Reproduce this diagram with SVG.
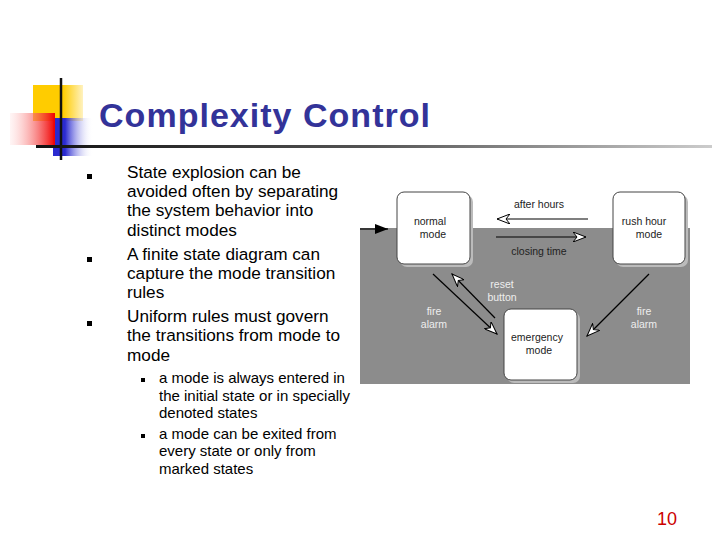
<svg xmlns="http://www.w3.org/2000/svg" width="720" height="540" viewBox="0 0 720 540">
<defs>
<linearGradient id="red" x1="1" y1="0" x2="0" y2="0"><stop offset="0" stop-color="#f00000"/><stop offset="1" stop-color="#ffe0e0" stop-opacity="0.3"/></linearGradient>
<linearGradient id="yel" x1="0" y1="0" x2="1" y2="0"><stop offset="0.6" stop-color="#ffcc00"/><stop offset="1" stop-color="#fff2c0"/></linearGradient>
<linearGradient id="blu" x1="0" y1="0" x2="1" y2="0"><stop offset="0.3" stop-color="#2a2ad0"/><stop offset="1" stop-color="#ffffff" stop-opacity="0"/></linearGradient>
<linearGradient id="hl" x1="0" y1="0" x2="1" y2="0"><stop offset="0" stop-color="#111"/><stop offset="0.5" stop-color="#555"/><stop offset="1" stop-color="#ccc"/></linearGradient>
<marker id="open" viewBox="0 0 14 10" refX="13" refY="5" markerWidth="14" markerHeight="10" markerUnits="userSpaceOnUse" orient="auto"><path d="M0,0 L13,5 L0,10 L4,5 Z" fill="#fff" stroke="#000" stroke-width="1"/></marker>
<marker id="fill" viewBox="0 0 14 10" refX="13" refY="5" markerWidth="14" markerHeight="10" markerUnits="userSpaceOnUse" orient="auto"><path d="M0,0 L13,5 L0,10 Z" fill="#000"/></marker>
</defs>
<style>
.t{font-family:"Liberation Sans",Arial,sans-serif;fill:#000}
.b1{font-size:17.2px}
.b2{font-size:15px}
.d{font-size:10.5px;fill:#222;text-anchor:middle}
.dw{font-size:10.5px;fill:#eee;text-anchor:middle}
.box{fill:#fff;stroke:#444;stroke-width:1}
.sh{fill:#bbb}
.c{stroke:#000;stroke-width:1.2;fill:none}
</style>
<rect width="720" height="540" fill="#fff"/>
<g id="logo">
<rect x="33" y="85" width="50" height="36" fill="url(#yel)"/>
<rect x="53" y="118" width="40" height="38" fill="url(#blu)"/>
<rect x="10" y="113" width="45" height="32" fill="url(#red)"/>
<line x1="61" y1="78" x2="61" y2="160" stroke="#111" stroke-width="2.5"/>
<rect x="36" y="145" width="676" height="3" fill="url(#hl)"/>
</g>
<text class="t" x="99" y="127" font-size="34" font-weight="bold" textLength="331" style="fill:#333399">Complexity Control</text>
<g id="bullets">
<rect x="87" y="174" width="5" height="5" fill="#000"/>
<rect x="87" y="257" width="5" height="5" fill="#000"/>
<rect x="87" y="321" width="5" height="5" fill="#000"/>
<rect x="141" y="378" width="4" height="4" fill="#000"/>
<rect x="141" y="434" width="4" height="4" fill="#000"/>
</g>
<text class="t b1"><tspan x="127" y="178">State explosion can be</tspan><tspan x="127" y="197">avoided often by separating</tspan><tspan x="127" y="216">the system behavior into</tspan><tspan x="127" y="236">distinct modes</tspan><tspan x="127" y="260">A finite state diagram can</tspan><tspan x="127" y="279">capture the mode transition</tspan><tspan x="127" y="298">rules</tspan><tspan x="127" y="322">Uniform rules must govern</tspan><tspan x="127" y="341">the transitions from mode to</tspan><tspan x="127" y="361">mode</tspan></text>
<text class="t b2"><tspan x="159" y="383">a mode is always entered in</tspan><tspan x="159" y="401">the initial state or in specially</tspan><tspan x="159" y="418">denoted states</tspan><tspan x="159" y="439">a mode can be exited from</tspan><tspan x="159" y="456">every state or only from</tspan><tspan x="159" y="474">marked states</tspan></text>
<text class="t" x="677" y="525" font-size="18" text-anchor="end" style="fill:#cc0000">10</text>
<g id="diagram">
<rect x="360" y="228" width="330" height="156" fill="#8c8c8c"/>
<rect x="360" y="190" width="330" height="38" fill="#fff"/>
</g>
<g id="normal"><rect class="sh" x="400" y="195" width="73" height="72" rx="7"/><rect class="box" x="397" y="192" width="73" height="72" rx="7"/><text class="t d" x="430" y="225">normal</text><text class="t d" x="433" y="238">mode</text></g>
<g id="rush"><rect class="sh" x="616" y="195" width="72" height="72" rx="7"/><rect class="box" x="613" y="192" width="72" height="72" rx="7"/><text class="t d" x="644" y="225">rush hour</text><text class="t d" x="649" y="238">mode</text></g>
<g id="emergency"><rect class="sh" x="507" y="312" width="73" height="71" rx="7"/><rect class="box" x="504" y="309" width="73" height="71" rx="7"/><text class="t d" x="537" y="341">emergency</text><text class="t d" x="539" y="354">mode</text></g>
<g id="connectors">
<line class="c" x1="360" y1="229" x2="388" y2="229" marker-end="url(#fill)"/>
<line class="c" x1="588" y1="219" x2="497" y2="219" marker-end="url(#open)"/>
<line class="c" x1="496" y1="237" x2="586" y2="237" marker-end="url(#open)"/>
<line class="c" x1="433" y1="274" x2="497" y2="334" marker-end="url(#open)"/>
<line class="c" x1="495" y1="318" x2="452" y2="274" marker-end="url(#open)"/>
<line class="c" x1="649" y1="274" x2="587" y2="336" marker-end="url(#open)"/>
<text class="t d" x="539" y="208">after hours</text>
<text class="t d" x="539" y="255">closing time</text>
<text class="t dw" x="502" y="288">reset</text><text class="t dw" x="502" y="301">button</text>
<text class="t dw" x="434" y="315">fire</text><text class="t dw" x="434" y="328">alarm</text>
<text class="t dw" x="644" y="315">fire</text><text class="t dw" x="644" y="328">alarm</text>
</g>
</svg>
